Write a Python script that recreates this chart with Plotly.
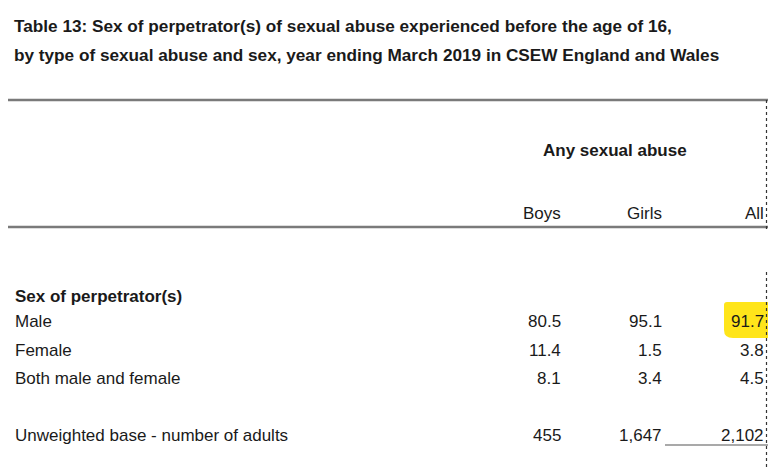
import plotly.graph_objects as go

# table content
title_lines = [
    "Table 13: Sex of perpetrator(s) of sexual abuse experienced before the age of 16,",
    "by type of sexual abuse and sex, year ending March 2019 in CSEW England and Wales",
]
group_header = "Any sexual abuse"
columns = ["Boys", "Girls", "All"]
section_label = "Sex of perpetrator(s)"
row_labels = ["Male", "Female", "Both male and female"]
boys = [80.5, 11.4, 8.1]
girls = [95.1, 1.5, 3.4]
all_adults = [91.7, 3.8, 4.5]
base_label = "Unweighted base - number of adults"
base_counts = [455, 1647, 2102]

W, H = 768, 467
FONT = "Liberation Sans, Arial, sans-serif"
TXT = "#1a1a1a"

col_x = [563, 664, 766]     # right edges of the value columns (annotation pad included)
row_y = [321, 350, 378]
base_y = 435
left_x = 13

fig = go.Figure()
fig.add_trace(go.Scatter(x=[0, W], y=[0, H], mode="markers",
                         marker=dict(opacity=0), hoverinfo="skip", showlegend=False))

ann = []

def txt(x, y, s, anchor="left", size=17, bold=False):
    ann.append(dict(x=x, y=y, text=s, xanchor=anchor, yanchor="middle",
                    showarrow=False,
                    font=dict(family=FONT, size=size, color=TXT,
                              weight="bold" if bold else "normal")))

for i, line in enumerate(title_lines):
    txt(12, 26 + i * 29, line, size=17.2, bold=True)

txt(615, 150, group_header, anchor="center", bold=True)
for cx, name in zip(col_x, columns):
    txt(cx, 213, name, anchor="right")

txt(left_x, 296, section_label, bold=True)
for j, lab in enumerate(row_labels):
    txt(left_x, row_y[j], lab)
    for cx, series in zip(col_x, [boys, girls, all_adults]):
        txt(cx, row_y[j], f"{series[j]:.1f}", anchor="right")

txt(left_x, base_y, base_label)
for cx, n in zip(col_x, base_counts):
    txt(cx, base_y, f"{n:,}", anchor="right")

shapes = [
    # highlight behind the "All" male value
    dict(type="path", path="M 727 302 L 768 302 L 768 338 L 733 338 Q 724 338 724 330 L 724 305 Q 724 302 727 302 Z",
         fillcolor="#ffe51a", line=dict(width=0), layer="below"),
    dict(type="line", x0=8, x1=W, y0=100, y1=100, line=dict(color="#7a7a7a", width=2.5)),
    dict(type="line", x0=8, x1=W, y0=227, y1=227, line=dict(color="#7a7a7a", width=2.5)),
    dict(type="line", x0=665, x1=W, y0=445, y1=445, line=dict(color="#555555", width=1.2)),
    dict(type="line", x0=766.5, x1=766.5, y0=100, y1=229, line=dict(color="#333333", width=1.2, dash="dot")),
    dict(type="line", x0=766.5, x1=766.5, y0=272, y1=H, line=dict(color="#333333", width=1.2, dash="dot")),
]

fig.update_layout(
    width=W, height=H,
    margin=dict(l=0, r=0, t=0, b=0),
    paper_bgcolor="white", plot_bgcolor="white",
    xaxis=dict(range=[0, W], visible=False, fixedrange=True),
    yaxis=dict(range=[H, 0], visible=False, fixedrange=True),
    annotations=ann, shapes=shapes, showlegend=False,
)

# the page body has a default 8px margin; drop it so the figure sits at the window corner
fig.write_html("out.html", config={"displayModeBar": False},
               post_script="document.body.style.margin='0';document.body.style.overflow='hidden';")
